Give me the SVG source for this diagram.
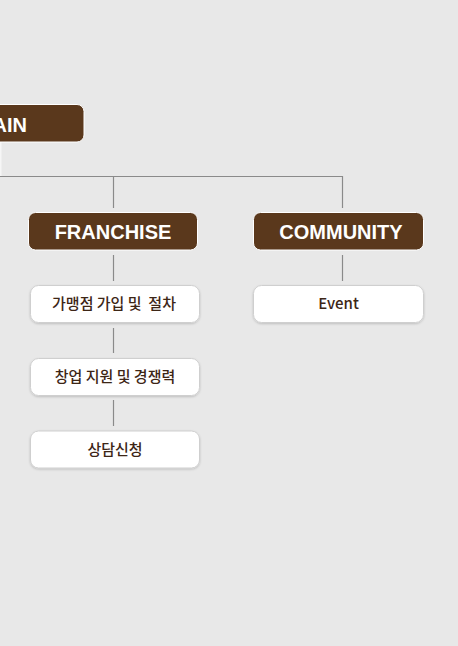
<svg xmlns="http://www.w3.org/2000/svg" width="458" height="646" viewBox="0 0 458 646">
<defs>
<style>
.hd rect{fill:#5a381c;stroke:#ffffff;stroke-width:1}
.hd text{font-family:"Liberation Sans",Arial,sans-serif;font-weight:bold;font-size:20px;fill:#ffffff}
.it rect{fill:#ffffff;stroke:#cfcfcf;stroke-width:1;filter:url(#sh)}
.it text{font-family:"Noto Sans CJK KR","Noto Sans",sans-serif;font-weight:500;font-size:15px;fill:#3d2616;text-anchor:middle;white-space:pre}
.cn line{stroke:#8a8a8a;stroke-width:1.2}
</style>
<filter id="sh" x="-10%" y="-20%" width="120%" height="150%">
<feDropShadow dx="0" dy="1" stdDeviation="1.2" flood-color="#000" flood-opacity="0.18"/>
</filter>
</defs>
<rect width="458" height="646" fill="#e8e8e8"/>
<g id="connectors" class="cn">
<line x1="0.5" y1="142" x2="0.5" y2="176" style="stroke:#f6f6f6;stroke-width:2"/>
<line x1="0" y1="176.5" x2="342.5" y2="176.5"/>
<line x1="113.5" y1="176" x2="113.5" y2="208"/>
<line x1="342.5" y1="176" x2="342.5" y2="208"/>
<line x1="113.5" y1="255" x2="113.5" y2="281"/>
<line x1="342.5" y1="255" x2="342.5" y2="281"/>
<line x1="113.5" y1="328" x2="113.5" y2="353"/>
<line x1="113.5" y1="400" x2="113.5" y2="426"/>
</g>
<g id="main" class="hd">
<rect x="-80" y="104.5" width="164" height="37.5" rx="7"/>
<text x="27" y="131.5" text-anchor="end">MAIN</text>
</g>
<g id="franchise" class="hd">
<rect x="28.5" y="212.5" width="169" height="37.5" rx="7"/>
<text x="113" y="239" text-anchor="middle">FRANCHISE</text>
</g>
<g id="community" class="hd">
<rect x="253.5" y="212.5" width="170" height="37.5" rx="7"/>
<text x="341" y="239" text-anchor="middle">COMMUNITY</text>
</g>
<g id="join" class="it">
<rect x="30.5" y="285.5" width="169" height="37" rx="8"/>
<text x="114" y="309" xml:space="preserve">가맹점 가입 및  절차</text>
</g>
<g id="support" class="it">
<rect x="30.5" y="358.5" width="169" height="37" rx="8"/>
<text x="115" y="382">창업 지원 및 경쟁력</text>
</g>
<g id="consult" class="it">
<rect x="30.5" y="431" width="169" height="37" rx="8"/>
<text x="115" y="455">상담신청</text>
</g>
<g id="event" class="it">
<rect x="253.5" y="285.5" width="170" height="37" rx="8"/>
<text x="338.5" y="309">Event</text>
</g>
</svg>
